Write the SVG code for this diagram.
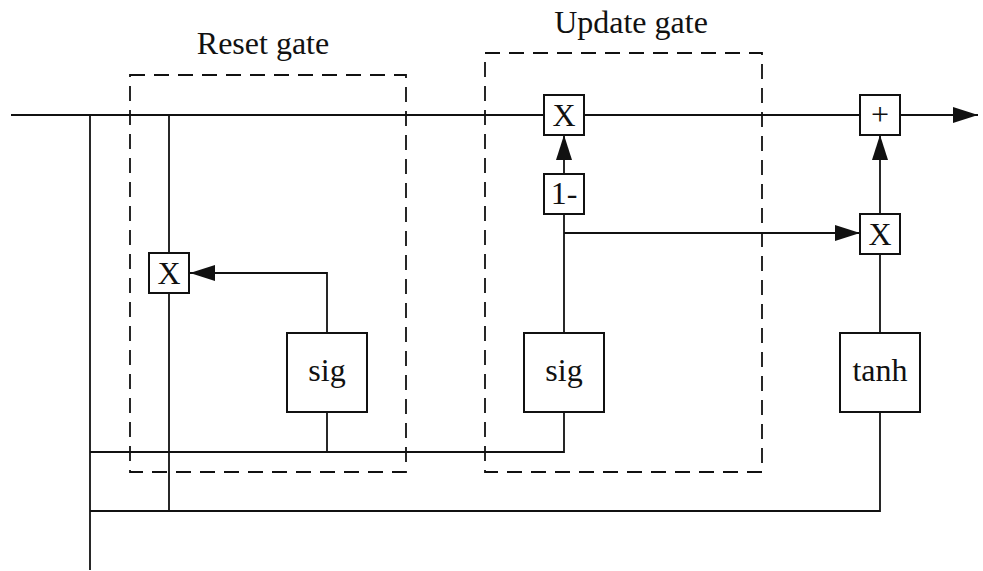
<svg xmlns="http://www.w3.org/2000/svg" width="983" height="571" viewBox="0 0 983 571">
<style>
.ln{fill:none;stroke:#111;stroke-width:1.8}
.bx{fill:#fff;stroke:#111;stroke-width:2}
.gate{fill:none;stroke:#111;stroke-width:1.8;stroke-dasharray:15 9}
.t{font-family:"Liberation Serif","Times New Roman",serif;font-size:32px;fill:#111;text-anchor:middle}
</style>
<defs>
<marker id="ah" markerUnits="userSpaceOnUse" markerWidth="25" markerHeight="16" refX="25" refY="8" orient="auto">
<path d="M0,0 L25,8 L0,16 z" fill="#111"/>
</marker>
</defs>
<rect width="983" height="571" fill="#fff"/>
<g id="reset-gate">
<rect class="gate" x="130" y="75" width="276" height="397"/>
<text class="t" x="263" y="54">Reset gate</text>
</g>
<g id="update-gate">
<rect class="gate" x="485" y="53" width="277" height="419"/>
<text class="t" x="631" y="33">Update gate</text>
</g>
<g id="connectors">
<path class="ln" d="M11,115 H544"/>
<path class="ln" d="M584,115 H860"/>
<path class="ln" d="M900,115 H978" marker-end="url(#ah)"/>
<path class="ln" d="M90,115 V570"/>
<path class="ln" d="M169,115 V253"/>
<path class="ln" d="M169,293 V511"/>
<path class="ln" d="M90,452 H564 V412"/>
<path class="ln" d="M327,412 V452"/>
<path class="ln" d="M327,333 V273 H190" marker-end="url(#ah)"/>
<path class="ln" d="M90,511 H880 V412"/>
<path class="ln" d="M564,333 V214"/>
<path class="ln" d="M564,174 V135" marker-end="url(#ah)"/>
<path class="ln" d="M564,233 H860" marker-end="url(#ah)"/>
<path class="ln" d="M880,333 V254"/>
<path class="ln" d="M880,214 V135" marker-end="url(#ah)"/>
</g>
<g id="reset-mult">
<rect class="bx" x="149" y="253" width="40" height="40"/>
<text class="t" x="169" y="284">X</text>
</g>
<g id="reset-sig">
<rect class="bx" x="287" y="333" width="80" height="79"/>
<text class="t" x="327" y="381">sig</text>
</g>
<g id="update-mult">
<rect class="bx" x="544" y="95" width="40" height="40"/>
<text class="t" x="564" y="126">X</text>
</g>
<g id="one-minus">
<rect class="bx" x="544" y="174" width="40" height="40"/>
<text class="t" x="564" y="204">1-</text>
</g>
<g id="update-sig">
<rect class="bx" x="524" y="333" width="80" height="79"/>
<text class="t" x="564" y="381">sig</text>
</g>
<g id="plus">
<rect class="bx" x="860" y="95" width="40" height="40"/>
<text class="t" x="880" y="125">+</text>
</g>
<g id="cand-mult">
<rect class="bx" x="860" y="214" width="40" height="40"/>
<text class="t" x="880" y="245">X</text>
</g>
<g id="tanh">
<rect class="bx" x="840" y="333" width="80" height="79"/>
<text class="t" x="880" y="381">tanh</text>
</g>
</svg>
